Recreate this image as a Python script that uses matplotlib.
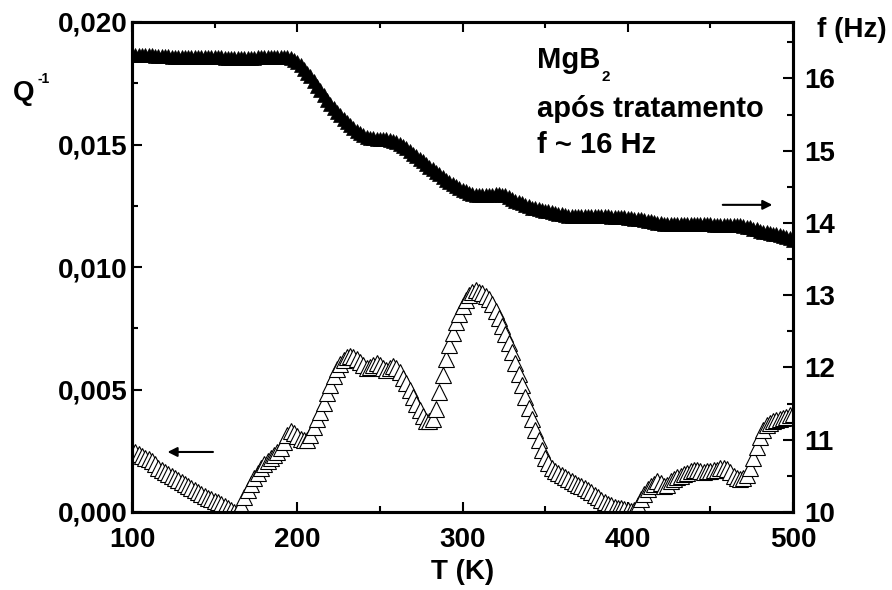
import numpy as np
import matplotlib
matplotlib.use('Agg')
import matplotlib.pyplot as plt
from matplotlib.ticker import MultipleLocator, FuncFormatter

# temperatura de 100 K a 500 K, passo de 2 K
temp_k = np.arange(100, 501, 2)

# atrito interno Q^-1 (em unidades de 1e-3)
q_milli = [
    2.50, 2.43, 2.36, 2.29, 2.22, 2.15, 2.07, 1.95, 1.80, 1.70,   # 100-118
    1.62, 1.54, 1.46, 1.38, 1.30, 1.22, 1.14, 1.06, 0.98, 0.90,   # 120-138
    0.82, 0.74, 0.66, 0.58, 0.52, 0.46, 0.40, 0.32, 0.24, 0.15,   # 140-158
    0.07, 0.02, 0.05, 0.30, 0.60, 0.90, 1.15, 1.40, 1.60, 1.80,   # 160-178
    1.95, 2.08, 2.20, 2.32, 2.45, 2.62, 2.85, 3.15, 3.30, 3.22,   # 180-198
    3.10, 3.00, 2.92, 2.95, 3.15, 3.45, 3.80, 4.10, 4.45, 4.85,   # 200-218
    5.20, 5.55, 5.85, 6.05, 6.22, 6.32, 6.36, 6.33, 6.26, 6.12,   # 220-238
    5.98, 5.88, 5.90, 6.02, 6.08, 6.02, 5.88, 5.80, 5.86, 5.94,   # 240-258
    5.88, 5.70, 5.48, 5.25, 4.98, 4.70, 4.42, 4.15, 3.90, 3.72,   # 260-278
    3.70, 3.80, 4.20, 4.90, 5.60, 6.25, 6.80, 7.30, 7.75, 8.10,   # 280-298
    8.40, 8.65, 8.85, 8.98, 9.05, 9.00, 8.92, 8.82, 8.68, 8.48,   # 300-318
    8.22, 7.92, 7.58, 7.25, 6.90, 6.52, 6.10, 5.65, 5.18, 4.70,   # 320-338
    4.25, 3.80, 3.35, 2.92, 2.55, 2.22, 1.98, 1.80, 1.68, 1.58,   # 340-358
    1.50, 1.42, 1.35, 1.27, 1.20, 1.12, 1.05, 0.97, 0.88, 0.80,   # 360-378
    0.70, 0.60, 0.50, 0.42, 0.34, 0.28, 0.22, 0.18, 0.15, 0.14,   # 380-398
    0.10, 0.03, 0.10, 0.30, 0.55, 0.75, 0.92, 1.05, 1.15, 1.28,   # 400-418
    1.20, 1.05, 1.12, 1.25, 1.35, 1.42, 1.48, 1.55, 1.60, 1.66,   # 420-438
    1.72, 1.72, 1.68, 1.65, 1.66, 1.68, 1.70, 1.72, 1.78, 1.80,   # 440-458
    1.74, 1.62, 1.45, 1.38, 1.36, 1.38, 1.50, 1.80, 2.20, 2.65,   # 460-478
    3.05, 3.35, 3.55, 3.65, 3.70, 3.75, 3.78, 3.82, 3.88, 3.95,   # 480-498
    4.02,                                                         # 500
]

# frequencia de ressonancia (Hz)
f_hz = [
    16.33, 16.33, 16.33, 16.32, 16.32, 16.32, 16.32, 16.31, 16.31, 16.31,   # 100-118
    16.31, 16.31, 16.30, 16.30, 16.30, 16.30, 16.30, 16.30, 16.30, 16.30,   # 120-138
    16.30, 16.29, 16.29, 16.29, 16.29, 16.29, 16.29, 16.29, 16.28, 16.28,   # 140-158
    16.28, 16.28, 16.28, 16.28, 16.28, 16.28, 16.28, 16.28, 16.29, 16.30,   # 160-178
    16.29, 16.29, 16.29, 16.29, 16.30, 16.30, 16.30, 16.30, 16.28, 16.26,   # 180-198
    16.23, 16.18, 16.13, 16.08, 16.03, 15.97, 15.90, 15.84, 15.77, 15.70,   # 200-218
    15.64, 15.59, 15.54, 15.49, 15.44, 15.39, 15.35, 15.31, 15.27, 15.24,   # 220-238
    15.21, 15.19, 15.18, 15.17, 15.16, 15.16, 15.16, 15.16, 15.15, 15.14,   # 240-258
    15.12, 15.09, 15.06, 15.03, 14.99, 14.96, 14.92, 14.88, 14.85, 14.81,   # 260-278
    14.78, 14.74, 14.70, 14.67, 14.64, 14.60, 14.57, 14.54, 14.51, 14.48,   # 280-298
    14.46, 14.44, 14.42, 14.40, 14.39, 14.38, 14.38, 14.38, 14.38, 14.39,   # 300-318
    14.40, 14.40, 14.39, 14.38, 14.36, 14.33, 14.31, 14.29, 14.27, 14.25,   # 320-338
    14.23, 14.21, 14.20, 14.19, 14.18, 14.17, 14.16, 14.15, 14.14, 14.13,   # 340-358
    14.12, 14.11, 14.10, 14.10, 14.10, 14.10, 14.10, 14.10, 14.10, 14.10,   # 360-378
    14.09, 14.09, 14.09, 14.09, 14.09, 14.08, 14.08, 14.08, 14.08, 14.08,   # 380-398
    14.07, 14.07, 14.06, 14.06, 14.05, 14.04, 14.03, 14.02, 14.01, 14.00,   # 400-418
    14.00, 13.99, 13.99, 13.99, 13.98, 13.98, 13.98, 13.98, 13.98, 13.98,   # 420-438
    13.98, 13.98, 13.98, 13.98, 13.98, 13.98, 13.97, 13.97, 13.97, 13.97,   # 440-458
    13.97, 13.97, 13.97, 13.97, 13.97, 13.96, 13.95, 13.94, 13.92, 13.91,   # 460-478
    13.89, 13.88, 13.87, 13.86, 13.85, 13.84, 13.83, 13.82, 13.80, 13.79,   # 480-498
    13.77,                                                                  # 500
]

q_inv = np.array(q_milli) * 1e-3
f_hz = np.array(f_hz)

plt.rcParams['font.family'] = ['Liberation Sans', 'DejaVu Sans']
plt.rcParams['font.weight'] = 'bold'
plt.rcParams['axes.labelweight'] = 'bold'
plt.rcParams['font.size'] = 20

W, H = 892, 590
fig = plt.figure(figsize=(W / 100, H / 100), dpi=100)
ax = fig.add_axes([132 / W, 1 - 512 / H, 661 / W, 490 / H])
ax2 = ax.twinx()

# Q^-1: triangulos abertos
ax.plot(temp_k, q_inv, linestyle='none', marker='^', ms=12,
        mfc='white', mec='black', mew=0.8)
# f: triangulos cheios
ax2.plot(temp_k, f_hz, linestyle='none', marker='^', ms=10,
         mfc='black', mec='black', mew=0.5)

ax.set_xlim(100, 500)
ax.set_ylim(0, 0.020)
ax2.set_ylim(10, 16.78)

ax.xaxis.set_major_locator(MultipleLocator(100))
ax.xaxis.set_minor_locator(MultipleLocator(50))
ax.yaxis.set_major_locator(MultipleLocator(0.005))
ax.yaxis.set_minor_locator(MultipleLocator(0.0025))
ax2.yaxis.set_major_locator(MultipleLocator(1))
ax2.yaxis.set_minor_locator(MultipleLocator(0.5))

ax.yaxis.set_major_formatter(FuncFormatter(lambda v, p: f'{v:.3f}'.replace('.', ',')))
ax2.yaxis.set_major_formatter(FuncFormatter(lambda v, p: f'{v:.0f}'))

for a in (ax, ax2):
    for s in a.spines.values():
        s.set_linewidth(2.2)

ax.tick_params(axis='x', which='both', direction='in', top=True, width=1.5)
ax.tick_params(axis='x', which='major', length=7, pad=11)
ax.tick_params(axis='x', which='minor', length=4)
ax.tick_params(axis='y', which='both', direction='in', right=False, width=1.5)
ax.tick_params(axis='y', which='major', length=7, pad=3)
ax.tick_params(axis='y', which='minor', length=4)
ax2.tick_params(axis='y', which='both', direction='in', width=1.5)
ax2.tick_params(axis='y', which='major', length=7, pad=8)
ax2.tick_params(axis='y', which='minor', length=4)

ax.set_xlabel('T (K)', labelpad=4, fontweight='bold')

# rotulos dos eixos y, na horizontal
fig.text(13 / W, 1 - 100 / H, 'Q', va='baseline', ha='left')
fig.text(38 / W, 1 - 83 / H, '-1', va='baseline', ha='left', fontsize=10)
fig.text(817 / W, 1 - 37 / H, 'f (Hz)', va='baseline', ha='left')

# legenda da amostra
fig.text(537 / W, 1 - 68 / H, 'MgB', va='baseline', ha='left', fontsize=21)
fig.text(601 / W, 1 - 81 / H, '2', va='baseline', ha='left', fontsize=11)
fig.text(537 / W, 1 - 117 / H, 'após tratamento', va='baseline', ha='left', fontsize=21)
fig.text(537 / W, 1 - 153 / H, 'f ~ 16 Hz', va='baseline', ha='left', fontsize=21)

# setas indicando o eixo de cada curva
arrow = dict(arrowstyle='-|>', color='black', lw=1.5, mutation_scale=14,
             shrinkA=0, shrinkB=0)
ax.annotate('', xy=(121.5, 0.00245), xytext=(149, 0.00245), arrowprops=arrow)
ax2.annotate('', xy=(487.5, 14.25), xytext=(457.5, 14.25), arrowprops=arrow)

fig.savefig('out.png', dpi=100)
